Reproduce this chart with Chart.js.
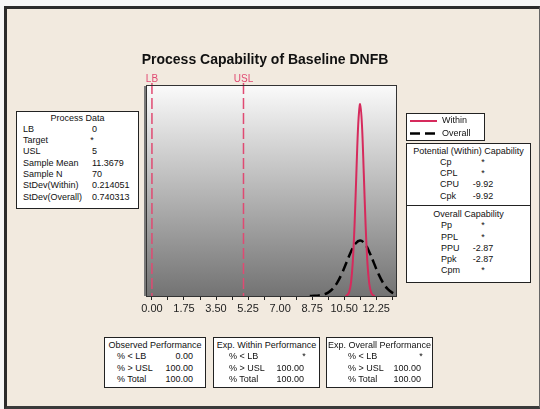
<!DOCTYPE html>
<html>
<head>
<meta charset="utf-8">
<script src="https://cdn.jsdelivr.net/npm/chart.js@4.4.1/dist/chart.umd.min.js"></script>
<style>
  body { margin: 0; background: #f6f6f6; font-family: 'Liberation Sans', Arial, sans-serif; }
  #wrap { position: relative; width: 540px; height: 409px; overflow: hidden; }
  #frame { position: absolute; left: 4px; top: 6px; width: 532px; height: 397px; background: #F2EADF;
           border-left: 3px solid #2b2b2b; border-top: 3px solid #2b2b2b; border-bottom: 3px solid #3a3a3a; border-right: 1px solid #666; }
  #chart { position: absolute; left: 0; top: 0; }
  #title { position: absolute; left: 265px; top: 51px; transform: translateX(-50%); font-weight: bold; font-size: 14px; color: #111; white-space: nowrap; }
  .box { position: absolute; border: 1px solid #222; background: #fff; font-size: 9px; color: #111; box-sizing: border-box; }
  .row { position: relative; height: 11.3px; line-height: 11.3px; white-space: nowrap; }
  .row span { position: absolute; top: 0; }
  .hdr { text-align: center; }
</style>
</head>
<body>
<div id="wrap">
  <div id="frame"></div>
  <canvas id="chart" width="540" height="409"></canvas>
  <div id="title">Process Capability of Baseline DNFB</div>
  <div id="boxes"></div>
</div>
<script>
// spec limits
const specNames = ['LB', 'USL'];
const specValues = [0, 5];

// fitted normal curves
const withinX = [10.57, 10.67, 10.77, 10.87, 10.97, 11.07, 11.17, 11.27, 11.37, 11.47, 11.57, 11.67, 11.77, 11.87, 11.97, 12.07, 12.17];
const withinY = [0.0018, 0.0092, 0.0377, 0.1247, 0.3312, 0.7077, 1.2158, 1.6787, 1.8638, 1.6634, 1.1934, 0.6885, 0.3193, 0.1190, 0.0357, 0.0086, 0.0017];
const overallX = [8.62, 8.87, 9.12, 9.37, 9.62, 9.87, 10.12, 10.37, 10.62, 10.87, 11.12, 11.37, 11.62, 11.87, 12.12, 12.37, 12.62, 12.87, 13.12, 13.33];
const overallY = [0.0005, 0.0018, 0.0054, 0.0141, 0.0332, 0.0696, 0.1302, 0.2172, 0.3235, 0.4298, 0.5096, 0.5389, 0.5086, 0.4282, 0.3217, 0.2156, 0.1290, 0.0688, 0.0327, 0.0161];

// x axis ticks
const xTickValues = [0, 0.875, 1.75, 2.625, 3.5, 4.375, 5.25, 6.125, 7, 7.875, 8.75, 9.625, 10.5, 11.375, 12.25, 13.125];
const xTickLabels = ['0.00', '', '1.75', '', '3.50', '', '5.25', '', '7.00', '', '8.75', '', '10.50', '', '12.25', ''];

// text tables
const processLabels = ['LB', 'Target', 'USL', 'Sample Mean', 'Sample N', 'StDev(Within)', 'StDev(Overall)'];
const processValues = ['0', '*', '5', '11.3679', '70', '0.214051', '0.740313'];
const potentialLabels = ['Cp', 'CPL', 'CPU', 'Cpk'];
const potentialValues = ['*', '*', '-9.92', '-9.92'];
const overallLabels = ['Pp', 'PPL', 'PPU', 'Ppk', 'Cpm'];
const overallValues = ['*', '*', '-2.87', '-2.87', '*'];
const perfLabels = ['% < LB', '% > USL', '% Total'];
const observedValues = ['0.00', '100.00', '100.00'];
const expWithinValues = ['*', '100.00', '100.00'];
const expOverallValues = ['*', '100.00', '100.00'];

const pink = '#d62a5c';
const specPink = '#e04a72';

function box(left, top, width, height, padTop, header, labels, values, labelX, valueX, valueAlign) {
    let html = `<div class="box" style="left:${left}px;top:${top}px;width:${width}px;height:${height}px;padding-top:${padTop}px">`;
    html += `<div class="row hdr">${header}</div>`;
    labels.forEach((lab, i) => {
        let v = values[i];
        let vStyle = valueAlign === 'center' || v === '*'
            ? `left:${valueX - 20}px;width:40px;text-align:center`
            : valueAlign === 'left'
                ? `left:${valueX}px`
                : `left:${valueX - 50}px;width:50px;text-align:right`;
        html += `<div class="row"><span style="left:${labelX}px">${lab}</span><span style="${vStyle}">${v}</span></div>`;
    });
    return html + '</div>';
}

let boxesHTML = '';
boxesHTML += box(16, 111, 123, 98, 0.5, 'Process Data', processLabels, processValues, 6, 75, 'left');
boxesHTML += box(406, 143, 125, 63, 1.5, 'Potential (Within) Capability', potentialLabels, potentialValues, 33, 76, 'center');
boxesHTML += box(406, 205, 125, 78, 3, 'Overall Capability', overallLabels, overallValues, 34, 76, 'center');
boxesHTML += box(104, 337, 102, 51, 2, 'Observed Performance', perfLabels, observedValues, 12, 88, 'right');
boxesHTML += box(213, 337, 107, 51, 2, 'Exp. Within Performance', perfLabels, expWithinValues, 15, 90, 'right');
boxesHTML += box(326, 337, 107, 51, 2, 'Exp. Overall Performance', perfLabels, expOverallValues, 21, 94, 'right');
boxesHTML += `<div class="box" style="left:406px;top:113px;width:79px;height:28px">
  <svg style="position:absolute;left:0;top:0" width="77" height="26">
    <line x1="3" y1="7" x2="30" y2="7" stroke="${pink}" stroke-width="2"/>
    <line x1="3" y1="19.5" x2="30" y2="19.5" stroke="#000" stroke-width="2.5" stroke-dasharray="10,5"/>
  </svg>
  <div class="row" style="position:absolute;left:35px;top:1px">Within</div>
  <div class="row" style="position:absolute;left:35px;top:13.5px">Overall</div>
</div>`;
document.getElementById('boxes').innerHTML = boxesHTML;

const capabilityPlot = {
    id: 'capabilityPlot',
    beforeDatasetsDraw(chart) {
        const { ctx, chartArea: a, scales } = chart;
        ctx.save();
        const g = ctx.createLinearGradient(0, a.top, 0, a.bottom);
        g.addColorStop(0, '#fafafa');
        g.addColorStop(1, '#737373');
        ctx.fillStyle = g;
        ctx.fillRect(a.left, a.top, a.right - a.left, a.bottom - a.top);
        // spec limit lines
        ctx.strokeStyle = specPink;
        ctx.lineWidth = 1.5;
        ctx.setLineDash([11, 4]);
        ctx.fillStyle = specPink;
        ctx.font = '10px "Liberation Sans", Arial, sans-serif';
        ctx.textAlign = 'center';
        ctx.textBaseline = 'bottom';
        specValues.forEach((v, i) => {
            const x = scales.x.getPixelForValue(v);
            ctx.beginPath();
            ctx.moveTo(x, a.top - 3);
            ctx.lineTo(x, a.bottom);
            ctx.stroke();
            ctx.fillText(specNames[i], x, a.top - 2);
        });
        ctx.restore();
    },
    afterDatasetsDraw(chart) {
        const { ctx, chartArea: a } = chart;
        ctx.save();
        ctx.strokeStyle = '#333';
        ctx.lineWidth = 1;
        ctx.strokeRect(a.left - 0.5, a.top - 0.5, a.right - a.left + 1, a.bottom - a.top + 1);
        ctx.fillStyle = '#7a7a7a';
        ctx.fillRect(a.left - 3, a.top, 2, a.bottom - a.top);
        ctx.restore();
    }
};

new Chart(document.getElementById('chart'), {
    type: 'line',
    data: {
        datasets: [{
            label: 'Within',
            data: withinX.map((x, i) => ({ x: x, y: withinY[i] })),
            borderColor: pink,
            borderWidth: 2,
            pointRadius: 0,
            tension: 0.35,
            fill: false
        }, {
            label: 'Overall',
            data: overallX.map((x, i) => ({ x: x, y: overallY[i] })),
            borderColor: '#000',
            borderWidth: 2.5,
            borderDash: [10, 5],
            pointRadius: 0,
            tension: 0.4,
            fill: false
        }]
    },
    plugins: [capabilityPlot],
    options: {
        responsive: false,
        animation: false,
        layout: { padding: { left: 147, right: 144, top: 86, bottom: 83 } },
        scales: {
            x: {
                type: 'linear',
                min: -0.27,
                max: 13.33,
                afterBuildTicks: (s) => { s.ticks = xTickValues.map(v => ({ value: v })); },
                afterFit: (s) => { s.height = 30; },
                ticks: {
                    autoSkip: false,
                    maxRotation: 0,
                    padding: 2,
                    color: '#222',
                    font: { family: '"Liberation Sans", Arial, sans-serif', size: 11 },
                    callback: (v, i) => xTickLabels[i]
                },
                grid: { display: true, drawOnChartArea: false, drawTicks: true, tickLength: 4, color: '#222' },
                border: { display: false }
            },
            y: {
                display: false,
                min: 0,
                max: 2.04
            }
        },
        plugins: {
            legend: { display: false },
            tooltip: { enabled: false }
        }
    }
});
</script>
</body>
</html>
